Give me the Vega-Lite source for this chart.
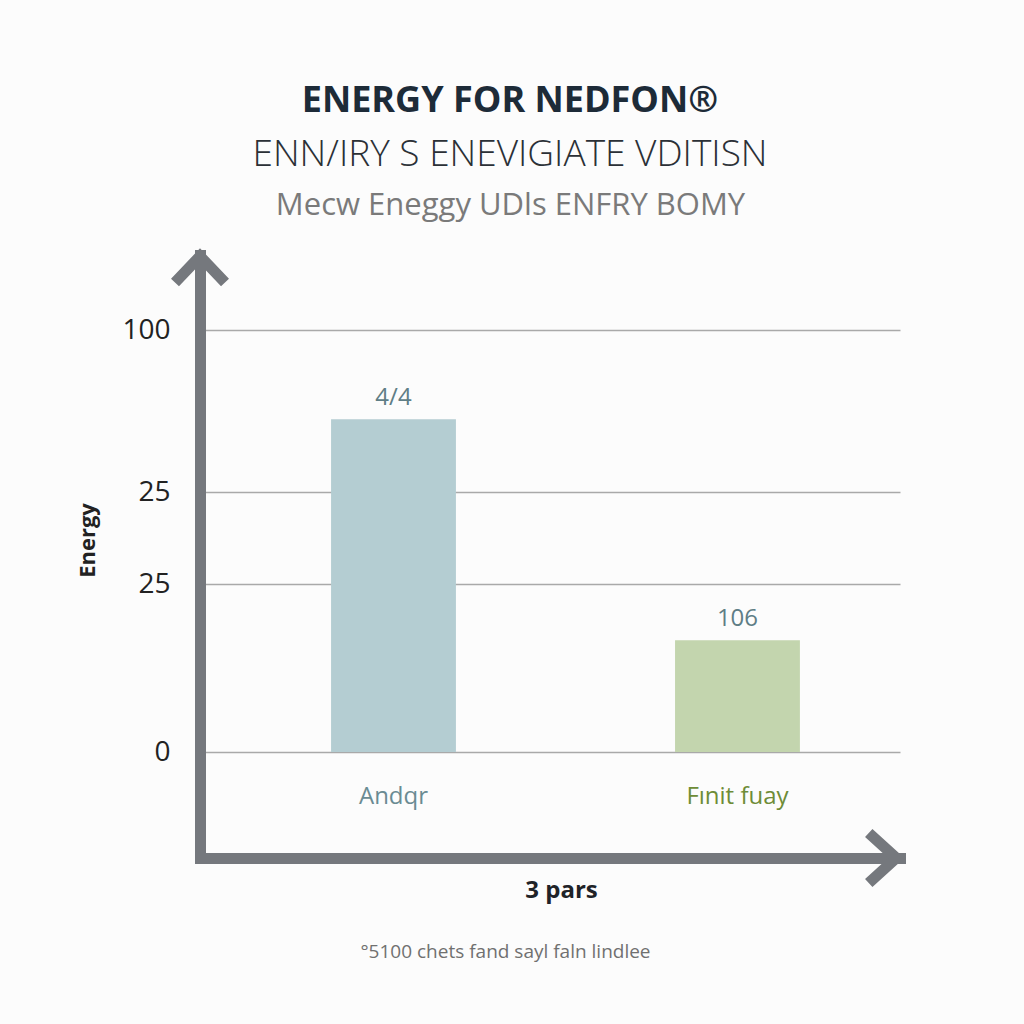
{
  "$schema": "https://vega.github.io/schema/vega-lite/v6.json",
  "autosize": "none",
  "width": 700,
  "height": 603,
  "padding": {"left": 200, "top": 255, "right": 124, "bottom": 166},
  "background": "#fcfcfc",
  "config": {"view": {"stroke": null}, "font": "Open Sans"},
  "title": {
    "text": "ENERGY FOR NEDFON®",
    "subtitle": "ENN/IRY S ENEVIGIATE VDITISN",
    "anchor": "middle",
    "frame": "group",
    "dx": -40,
    "font": "Open Sans",
    "fontSize": 36,
    "fontWeight": "bold",
    "color": "#1d2b38",
    "subtitleFont": "Open Sans",
    "subtitleFontSize": 37,
    "subtitleFontWeight": 300,
    "subtitleColor": "#2b3036",
    "subtitlePadding": 17,
    "offset": 15
  },
  "data": {
    "values": [
      {"category": "Andqr", "energy": 78.9, "label": "4/4"},
      {"category": "Fınit fuay", "energy": 26.5, "label": "106"}
    ]
  },
  "resolve": {"axis": {"x": "independent", "y": "independent"}},
  "layer": [
    {
      "mark": {"type": "bar"},
      "encoding": {
        "x": {
          "field": "category",
          "type": "nominal",
          "sort": null,
          "scale": {"paddingInner": 0.637, "paddingOuter": 0.336, "align": 0.567},
          "axis": {
            "orient": "bottom",
            "labels": false,
            "ticks": false,
            "grid": false,
            "domainColor": "#75787d",
            "domainWidth": 11,
            "domainCap": "square",
            "title": "3 pars",
            "titleFont": "Open Sans",
            "titleFontSize": 24,
            "titleFontWeight": "bold",
            "titleColor": "#1f2328",
            "titleX": 361,
            "titleY": 32,
            "titleAlign": "center",
            "titleBaseline": "middle"
          }
        },
        "y": {
          "field": "energy",
          "type": "quantitative",
          "scale": {"domain": [-25.1, 117.8], "nice": false, "zero": false},
          "axis": {
            "orient": "left",
            "values": [0, 39.8, 61.6, 100],
            "labelExpr": "datum.value == 100 ? '100' : datum.value == 0 ? '0' : '25'",
            "grid": true,
            "gridColor": "#a9a9a9",
            "gridWidth": 1.5,
            "ticks": false,
            "labelPadding": 30,
            "labelFont": "Open Sans",
            "labelFontSize": 28,
            "labelColor": "#222222",
            "domainColor": "#75787d",
            "domainWidth": 11,
            "domainCap": "square",
            "title": "Energy",
            "titleFont": "Open Sans",
            "titleFontSize": 22,
            "titleFontWeight": "bold",
            "titleColor": "#222222",
            "titleX": -113,
            "titleY": 285,
            "titleAlign": "center",
            "titleBaseline": "middle"
          }
        },
        "color": {
          "field": "category",
          "type": "nominal",
          "scale": {"domain": ["Andqr", "Fınit fuay"], "range": ["#b4cdd2", "#c3d5ae"]},
          "legend": null
        }
      }
    },
    {
      "mark": {"type": "text", "baseline": "middle", "dy": -21, "fontSize": 24, "font": "Open Sans", "color": "#5f7e86"},
      "encoding": {
        "x": {"field": "category", "type": "nominal", "sort": null, "axis": null},
        "y": {
          "field": "energy",
          "type": "quantitative",
          "axis": {
            "orient": "right",
            "labels": false,
            "ticks": false,
            "grid": false,
            "domain": false,
            "title": "°5100 chets fand sayl faln lindlee",
            "titleFont": "Open Sans",
            "titleFontSize": 19,
            "titleFontWeight": "normal",
            "titleColor": "#707070",
            "titleAngle": 0,
            "titleX": -395,
            "titleY": 696,
            "titleAlign": "center",
            "titleBaseline": "middle"
          }
        },
        "text": {"field": "label"}
      }
    },
    {
      "mark": {"type": "text", "baseline": "middle", "fontSize": 24, "font": "Open Sans"},
      "encoding": {
        "x": {
          "field": "category",
          "type": "nominal",
          "sort": null,
          "axis": {
            "orient": "top",
            "labels": false,
            "ticks": false,
            "grid": false,
            "domain": false,
            "title": "Mecw Eneggy UDls ENFRY BOMY",
            "titleFont": "Open Sans",
            "titleFontSize": 31,
            "titleFontWeight": "normal",
            "titleColor": "#7a7a7a",
            "titleX": 310,
            "titleY": -50,
            "titleAlign": "center",
            "titleBaseline": "middle"
          }
        },
        "y": {"datum": -10.7, "type": "quantitative", "axis": null},
        "text": {"field": "category"},
        "color": {
          "condition": {"test": "datum.category == 'Andqr'", "value": "#6a8b93"},
          "value": "#6e8c37"
        }
      }
    },
    {
      "data": {"values": [{}]},
      "mark": {"type": "point", "shape": "M-1,1.1L0,0.05L1,1.1", "filled": false, "size": 2500, "strokeWidth": 11, "strokeJoin": "miter", "stroke": "#75787d", "opacity": 1},
      "encoding": {
        "x": {"value": 0},
        "y": {"value": 0}
      }
    },
    {
      "data": {"values": [{}]},
      "mark": {"type": "point", "shape": "M-1.25,-1L-0.15,0L-1.25,1", "filled": false, "size": 2500, "strokeWidth": 11, "strokeJoin": "miter", "stroke": "#75787d", "opacity": 1},
      "encoding": {
        "x": {"value": "width"},
        "y": {"value": "height"}
      }
    }
  ]
}
